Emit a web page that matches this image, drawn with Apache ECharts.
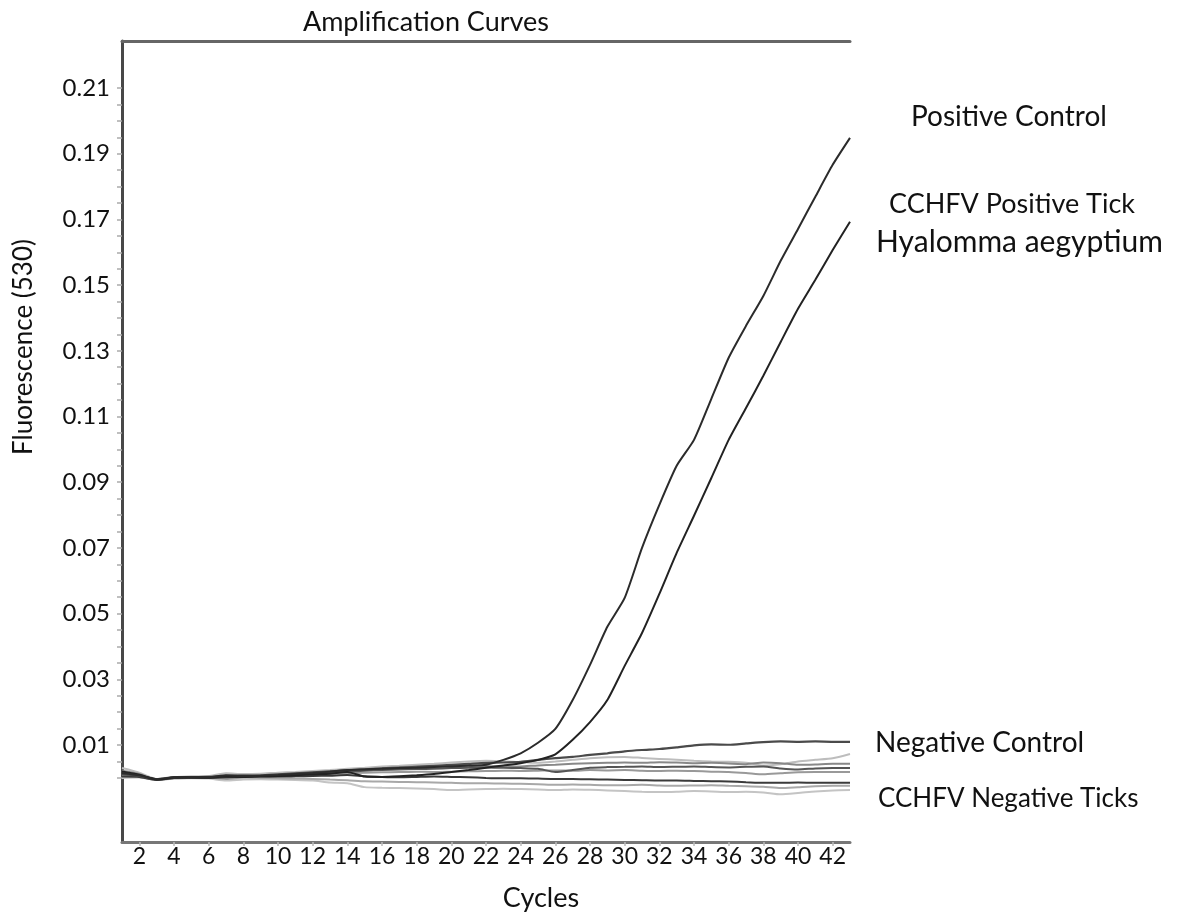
<!DOCTYPE html>
<html>
<head>
<meta charset="utf-8">
<script src="https://cdn.jsdelivr.net/npm/echarts@6/dist/echarts.min.js"></script>
<style>
  html, body { margin: 0; padding: 0; background: #fff; }
  #main { width: 1179px; height: 915px; }
</style>
</head>
<body>
<div id="main"></div>
<script>
// cycles 1..43
const cycles = [1,2,3,4,5,6,7,8,9,10,11,12,13,14,15,16,17,18,19,20,21,22,23,24,25,26,27,28,29,30,31,32,33,34,35,36,37,38,39,40,41,42,43];

const xLabelValues = [2,4,6,8,10,12,14,16,18,20,22,24,26,28,30,32,34,36,38,40,42];
const yLabelValues = [0.01,0.03,0.05,0.07,0.09,0.11,0.13,0.15,0.17,0.19,0.21];

const positiveControl = [0.0015,0.0008,-0.0004,0.0002,0.0003,0.0002,0.0008,0.0006,0.0007,0.0009,0.0012,0.0015,0.0019,0.0024,0.0026,0.0028,0.003,0.0031,0.0033,0.0035,0.0037,0.004,0.0055,0.0075,0.0107,0.0149,0.0237,0.0344,0.046,0.0548,0.070,0.0831,0.095,0.1029,0.1154,0.1279,0.1376,0.1467,0.1574,0.1671,0.1769,0.1866,0.1948];
const cchfvPositiveTick = [0.002,0.001,-0.0005,0.0001,0.0002,0.0001,0.0004,0.0003,0.0005,0.0006,0.0008,0.0011,0.0013,0.0018,0.0004,0.0003,0.0005,0.0008,0.0012,0.0018,0.0024,0.0031,0.0038,0.0045,0.0055,0.0072,0.0116,0.017,0.0237,0.0341,0.0441,0.056,0.0685,0.0798,0.0913,0.1029,0.1126,0.1224,0.1327,0.1428,0.1516,0.1607,0.1693];
const negativeControl = [0.0012,0.0006,-0.0004,0.0002,0.0003,0.0003,0.0006,0.0007,0.0008,0.0011,0.0014,0.0017,0.002,0.0023,0.0026,0.0029,0.0031,0.0034,0.0037,0.004,0.0043,0.0046,0.0047,0.0049,0.0055,0.006,0.0064,0.007,0.0075,0.0081,0.0085,0.0088,0.0093,0.0099,0.0102,0.0101,0.0105,0.0109,0.0111,0.011,0.0111,0.011,0.011];

// CCHFV negative ticks
const negTick1 = [0.003,0.0016,-0.0003,0.0003,0.0002,0.0006,0.0014,0.0012,0.0013,0.0016,0.0018,0.0021,0.0024,0.0028,0.0031,0.0035,0.0037,0.004,0.0043,0.0047,0.005,0.0052,0.0051,0.0048,0.0046,0.005,0.0055,0.006,0.0063,0.0064,0.0061,0.0058,0.0055,0.0052,0.005,0.0049,0.0046,0.0038,0.0042,0.005,0.0055,0.006,0.0073];
const negTick2 = [0.0022,0.0012,-0.0005,0.0001,0.0002,0.0003,0.0007,0.0008,0.0007,0.001,0.0013,0.0016,0.0019,0.0022,0.0025,0.0029,0.0033,0.0035,0.0036,0.0037,0.0038,0.0036,0.0034,0.0035,0.0038,0.004,0.0043,0.0045,0.0046,0.0047,0.0046,0.0048,0.0047,0.0045,0.0046,0.0044,0.0042,0.0047,0.0045,0.004,0.0041,0.0043,0.0043];
const negTick3 = [0.0016,0.0008,-0.0005,0.0,0.0001,0.0002,0.0005,0.0006,0.0006,0.0007,0.001,0.0012,0.0015,0.0019,0.0022,0.0024,0.0026,0.0027,0.0028,0.003,0.0031,0.0032,0.0031,0.003,0.0028,0.0018,0.0024,0.0031,0.0033,0.0034,0.0035,0.0033,0.0034,0.0035,0.0033,0.0032,0.0034,0.0035,0.0029,0.0026,0.0029,0.003,0.003];
const negTick4 = [0.0008,0.0004,-0.0006,-0.0001,0.0,0.0001,-0.0003,0.0002,0.0004,0.0005,0.0007,0.0009,0.0012,0.0014,0.0016,0.0017,0.0018,0.0019,0.0018,0.0019,0.002,0.0021,0.0022,0.0021,0.0022,0.0023,0.0022,0.0024,0.0023,0.0024,0.0022,0.0021,0.0022,0.0021,0.0019,0.0018,0.0015,0.0011,0.0014,0.0017,0.0018,0.0018,0.0018];
const negTick5 = [0.0004,0.0003,-0.0006,0.0,0.0,0.0,0.0002,0.0003,0.0004,0.0004,0.0005,0.0006,0.0007,0.0009,0.0005,0.0003,0.0002,0.0003,0.0004,0.0003,0.0002,0.0,-0.0001,-0.0001,-0.0002,-0.0003,-0.0003,-0.0004,-0.0005,-0.0006,-0.0007,-0.0008,-0.0008,-0.0009,-0.001,-0.0011,-0.0013,-0.0015,-0.0015,-0.0014,-0.0015,-0.0015,-0.0015];
const negTick6 = [0.0,0.0001,-0.0006,-0.0002,-0.0001,-0.0002,-0.0008,-0.0005,-0.0004,-0.0005,-0.0006,-0.0008,-0.0014,-0.0016,-0.0028,-0.003,-0.0031,-0.0032,-0.0034,-0.0037,-0.0035,-0.0034,-0.0033,-0.0034,-0.0035,-0.0037,-0.0035,-0.0036,-0.0038,-0.004,-0.0042,-0.0043,-0.0042,-0.004,-0.0041,-0.0043,-0.0042,-0.0044,-0.005,-0.0046,-0.0041,-0.0038,-0.0037];
const negTick7 = [0.0012,0.0005,-0.0004,0.0001,0.0001,0.0002,0.0004,0.0001,0.0,-0.0001,-0.0002,-0.0003,-0.0005,-0.0007,-0.001,-0.0011,-0.0012,-0.0013,-0.0014,-0.0015,-0.0016,-0.0016,-0.0017,-0.0018,-0.0019,-0.0021,-0.002,-0.0021,-0.0022,-0.0022,-0.0021,-0.0023,-0.0024,-0.0023,-0.0022,-0.0024,-0.0025,-0.0027,-0.0031,-0.0028,-0.0025,-0.0024,-0.0024];

const FONT = 'Lato';

// y ticks every 0.005
const yTickValues = [];
for (let i = 0; i <= 42; i++) yTickValues.push(+(i * 0.005).toFixed(3));

function pairs(vals) {
  return vals.map((v, i) => [cycles[i], v]);
}

function line(name, vals, color, width, z) {
  return {
    name: name,
    type: 'line',
    data: pairs(vals),
    symbol: 'none',
    smooth: 0.2,
    z: z,
    lineStyle: { color: color, width: width },
    emphasis: { disabled: true }
  };
}

function label(text, x, y, size) {
  return {
    type: 'text', x: x, y: y,
    style: { text: text, fontFamily: FONT, fontSize: size, fill: '#111', align: 'left', verticalAlign: 'middle' }
  };
}

const chart = echarts.init(document.getElementById('main'));

const option = {
  animation: false,
  backgroundColor: '#fff',
  title: {
    text: 'Amplification Curves',
    left: 421,
    top: 4,
    textAlign: 'center',
    textStyle: { fontFamily: FONT, fontSize: 27, fontWeight: 'normal', color: '#111' }
  },
  grid: { left: 122, top: 41, right: 329, bottom: 73 },
  xAxis: [
    {
      type: 'value',
      min: 1,
      max: 43,
      axisLine: { show: true, onZero: false, lineStyle: { color: '#777', width: 3 } },
      axisTick: { show: true, customValues: xLabelValues, length: 4, lineStyle: { color: '#bbb', width: 1.5 } },
      axisLabel: { customValues: xLabelValues, fontFamily: FONT, fontSize: 23, color: '#111', margin: 3 },
      splitLine: { show: false }
    },
    {
      type: 'value',
      position: 'top',
      min: 1,
      max: 43,
      axisLine: { show: true, onZero: false, lineStyle: { color: '#666', width: 3 } },
      axisTick: { show: false },
      axisLabel: { show: false },
      splitLine: { show: false }
    }
  ],
  yAxis: {
    type: 'value',
    min: -0.0195,
    max: 0.2243,
    axisLine: { show: true, onZero: false, lineStyle: { color: '#484848', width: 3 } },
    axisTick: { show: true, customValues: yTickValues, length: 5, lineStyle: { color: '#aaa', width: 1.5 } },
    axisLabel: {
      customValues: yLabelValues,
      formatter: (v) => v.toFixed(2),
      fontFamily: FONT, fontSize: 24, color: '#111', margin: 12
    },
    splitLine: { show: false }
  },
  series: [
    line('CCHFV Negative Tick 6', negTick6, '#c4c4c4', 2, 1),
    line('CCHFV Negative Tick 1', negTick1, '#bdbdbd', 2, 1),
    line('CCHFV Negative Tick 7', negTick7, '#a8a8a8', 2, 2),
    line('CCHFV Negative Tick 4', negTick4, '#999', 2, 2),
    line('CCHFV Negative Tick 2', negTick2, '#888', 2, 3),
    line('CCHFV Negative Tick 3', negTick3, '#555', 2, 3),
    line('CCHFV Negative Tick 5', negTick5, '#3a3a3a', 2, 4),
    line('Negative Control', negativeControl, '#4a4a4a', 2.2, 5),
    line('CCHFV Positive Tick', cchfvPositiveTick, '#222', 2, 6),
    line('Positive Control', positiveControl, '#2b2b2b', 2, 6)
  ],
  graphic: [
    { type: 'text', x: 24, y: 347, rotation: Math.PI / 2,
      style: { text: 'Fluorescence (530)', fontFamily: FONT, fontSize: 26, fill: '#111', align: 'center', verticalAlign: 'middle' } },
    { type: 'text', x: 541, y: 898,
      style: { text: 'Cycles', fontFamily: FONT, fontSize: 27, fill: '#111', align: 'center', verticalAlign: 'middle' } },
    label('Positive Control', 911, 117, 28),
    label('CCHFV Positive Tick', 889, 204, 27),
    label('Hyalomma aegyptium', 876, 242, 30),
    label('Negative Control', 875, 743, 28),
    label('CCHFV Negative Ticks', 878, 799, 26)
  ]
};

chart.setOption(option);
</script>
</body>
</html>
